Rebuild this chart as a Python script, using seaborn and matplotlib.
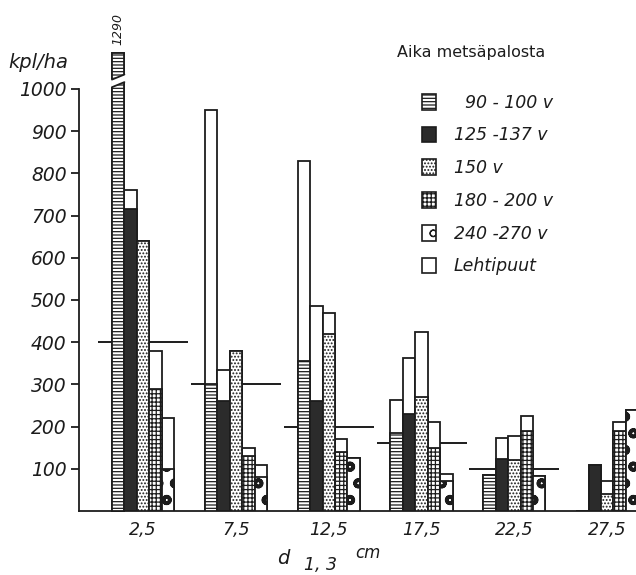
import numpy as np
import pandas as pd
import matplotlib
matplotlib.use("Agg")
import matplotlib.pyplot as plt
import matplotlib.patches as mpatches
import seaborn as sns

# ---- data ----
diameters = ["2,5", "7,5", "12,5", "17,5", "22,5", "27,5"]
age_classes = ["90 - 100 v", "125 -137 v", "150 v", "180 - 200 v", "240 -270 v"]

# conifer stems (kpl/ha) by time since fire, per diameter class
conif_90_100 = [1290, 300, 355, 185, 85, 0]
conif_125_137 = [715, 260, 260, 230, 123, 110]
conif_150 = [640, 380, 420, 270, 120, 40]
conif_180_200 = [290, 130, 140, 150, 190, 190]
conif_240_270 = [100, 80, 125, 70, 83, 240]

# deciduous trees (Lehtipuut) stacked on top
decid_90_100 = [0, 650, 475, 77, 0, 0]
decid_125_137 = [45, 75, 225, 132, 50, 0]
decid_150 = [0, 0, 50, 155, 58, 30]
decid_180_200 = [90, 20, 30, 60, 35, 20]
decid_240_270 = [120, 30, 0, 18, 0, 0]

# horizontal reference level per diameter class
ref_level = [400, 300, 200, 160, 100, np.nan]

y_ticks = [100, 200, 300, 400, 500, 600, 700, 800, 900, 1000]
legend_labels = ["  90 - 100 v", "125 -137 v", "150 v", "180 - 200 v", "240 -270 v", "Lehtipuut"]

conifer = [conif_90_100, conif_125_137, conif_150, conif_180_200, conif_240_270]
decid = [decid_90_100, decid_125_137, decid_150, decid_180_200, decid_240_270]

rows = []
for a, con, dec in zip(age_classes, conifer, decid):
    for d, c, e in zip(diameters, con, dec):
        rows.append({"d": d, "age": a, "conifer": c, "total": c + e})
df = pd.DataFrame(rows)

# ---- styling ----
sns.set_style("white")
plt.rcParams["font.family"] = ["DejaVu Sans"]
INK = "#1c1c1c"
DARK = "#2b2b2b"
plt.rcParams["hatch.linewidth"] = 0.9

faces = ["white", DARK, "white", "white", "white"]
hatches = ["-----", "", ".....", "++++", "o"]

fig = plt.figure(figsize=(6.36, 5.75), dpi=100)
ax = fig.add_axes([79 / 636, 64 / 575, 557 / 636, 458 / 575])

YTOP = 1085

# reference lines behind bars
xs = np.arange(len(diameters))
ax.hlines(ref_level, xs - 0.485, xs + 0.485, color=INK, lw=1.4, zorder=1)

sns.barplot(data=df, x="d", y="total", hue="age", order=diameters,
            hue_order=age_classes, palette={a: "white" for a in age_classes},
            width=0.67, gap=0, saturation=1, edgecolor=INK, linewidth=1.3,
            errorbar=None, legend=False, ax=ax, zorder=2)
sns.barplot(data=df, x="d", y="conifer", hue="age", order=diameters,
            hue_order=age_classes, palette=dict(zip(age_classes, faces)),
            width=0.67, gap=0, saturation=1, edgecolor=INK, linewidth=1.3,
            errorbar=None, legend=False, ax=ax, zorder=3)

for i, cont in enumerate(ax.containers[5:10]):
    for p in cont:
        p.set_hatch(hatches[i])
        if i == 4:
            try:
                p.set_hatch_linewidth(2.6)
            except Exception:
                pass

# broken tall bar (1290)
tall_total = ax.containers[0][0]
tall = ax.containers[5][0]
for p in (tall_total, tall):
    if p.get_height() > YTOP:
        p.set_height(YTOP)
        p.set_clip_on(False)
x0, w = tall.get_x(), tall.get_width()
brk = mpatches.Polygon([(x0 - 0.01, 1004), (x0 + w + 0.01, 1016),
                        (x0 + w + 0.01, 1034), (x0 - 0.01, 1022)],
                       closed=True, facecolor="white", edgecolor="none",
                       zorder=6, clip_on=False)
ax.add_patch(brk)
ax.plot([x0, x0 + w], [1004, 1016], color=INK, lw=1.3, zorder=7, clip_on=False)
ax.plot([x0, x0 + w], [1022, 1034], color=INK, lw=1.3, zorder=7, clip_on=False)
ax.text(x0 + w / 2, YTOP + 18, str(conif_90_100[0]), rotation=90,
        ha="center", va="bottom", fontsize=9, style="italic", color=INK,
        clip_on=False)

# axes
ax.set_ylim(0, YTOP)
ax.set_xlim(-0.69, 5.31)
ax.set_yticks(y_ticks)
ax.set_yticklabels([str(v) for v in y_ticks], fontsize=13.5, style="italic", color=INK)
ax.set_xticks(xs)
ax.set_xticklabels(diameters, fontsize=12.5, style="italic", color=INK)
ax.tick_params(axis="y", length=6, width=1.3, color=INK, pad=3, direction="out", left=True)
ax.tick_params(axis="x", length=0, pad=7)
ax.set_xlabel("")
ax.set_ylabel("")
for s in ("top", "right"):
    ax.spines[s].set_visible(False)
ax.spines["left"].set_bounds(0, 1000)
for s in ("left", "bottom"):
    ax.spines[s].set_linewidth(1.3)
    ax.spines[s].set_color(INK)

# unit label and x-axis label
fig.text(8 / 636, 1 - 62 / 575, "kpl/ha", fontsize=14, style="italic",
         color=INK, va="center", ha="left")
fig.text(283 / 636, 1 - 558 / 575, "d", fontsize=14, style="italic",
         color=INK, va="center", ha="center")
fig.text(320 / 636, 1 - 565 / 575, "1, 3", fontsize=12.5, style="italic",
         color=INK, va="center", ha="center")
fig.text(368 / 636, 1 - 553 / 575, "cm", fontsize=12, style="italic",
         color=INK, va="center", ha="center")

# legend
fig.text(397 / 636, 1 - 52 / 575, "Aika metsäpalosta", fontsize=11.5,
         color=INK, va="center", ha="left")
handles = []
for f, h in zip(faces, hatches):
    handles.append(mpatches.Patch(facecolor=f, edgecolor=INK, hatch=h, lw=1.2))
handles.append(mpatches.Patch(facecolor="white", edgecolor=INK, lw=1.2))
leg = fig.legend(handles, legend_labels, loc="upper left",
                 bbox_to_anchor=(413 / 636, 1 - 85 / 575),
                 frameon=False, borderpad=0, handlelength=0.85,
                 handleheight=1.0, handletextpad=1.0, labelspacing=0.85,
                 prop={"size": 12.5, "style": "italic"})
for t in leg.get_texts():
    t.set_color(INK)

fig.savefig("out.png", dpi=100, facecolor="white")
